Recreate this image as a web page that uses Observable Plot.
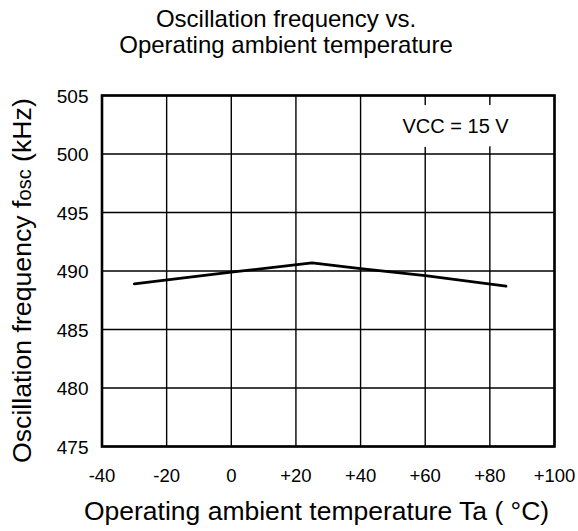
<!DOCTYPE html>
<html>
<head>
<meta charset="utf-8">
<script src="https://cdn.jsdelivr.net/npm/d3@7"></script>
<script src="https://cdn.jsdelivr.net/npm/@observablehq/plot@0.6"></script>
<style>
  html, body { margin: 0; padding: 0; background: white; }
  body { width: 578px; height: 531px; overflow: hidden; font-family: "Liberation Sans", Arial, sans-serif; }
  #title { height: 70px; box-sizing: border-box; padding-top: 6px; padding-right: 6px; text-align: center; font-size: 24px; line-height: 26px; color: black; }
  #chart svg { display: block; }
</style>
</head>
<body>
<div id="title">Oscillation frequency vs.<br>Operating ambient temperature</div>
<div id="chart"></div>
<script>
// Data
const temps = [-30, 0, 25, 40, 60, 85];
const freqs = [488.9, 489.9, 490.7, 490.2, 489.6, 488.7];

const xTicks = [-40, -20, 0, 20, 40, 60, 80, 100];
const xTickLabels = ["-40", "-20", "0", "+20", "+40", "+60", "+80", "+100"];
const yTicks = [475, 480, 485, 490, 495, 500, 505];
const yTickLabels = ["475", "480", "485", "490", "495", "500", "505"];

const xLabel = "Operating ambient temperature Ta ( °C)";
const yLabelParts = ["Oscillation frequency f", "osc", " (kHz)"];
const yLabel = yLabelParts.join("");

const annotation = [{t: 69.4, f: 502.3, text: "VCC = 15 V"}];

const series = temps.map((t, i) => ({t, f: freqs[i]}));
const xTickData = xTicks.map((v, i) => ({v, label: xTickLabels[i]}));
const yTickData = yTicks.map((v, i) => ({v, label: yTickLabels[i]}));

const font = "'Liberation Sans', Arial, sans-serif";

const chart = Plot.plot({
  width: 578,
  height: 461,
  marginTop: 25,
  marginBottom: 85,
  marginLeft: 101.5,
  marginRight: 24,
  style: {fontFamily: font, fontSize: "18px", background: "white", color: "black", overflow: "visible"},
  x: {domain: [-40, 100], axis: null},
  y: {domain: [475, 505], axis: null},
  marks: [
    Plot.gridX(xTicks, {stroke: "black", strokeOpacity: 1, strokeWidth: 1.4}),
    Plot.gridY(yTicks, {stroke: "black", strokeOpacity: 1, strokeWidth: 1.4}),
    Plot.text(annotation, {x: "t", y: "f", text: "text", fontSize: 20, fill: "black", stroke: "white", strokeWidth: 28, strokeLinejoin: "round", lineAnchor: "middle"}),
    Plot.line(series, {x: "t", y: "f", stroke: "black", strokeWidth: 2.7}),
    Plot.frame({stroke: "black", strokeWidth: 2.6}),
    // tick labels
    Plot.text(xTickData, {x: "v", text: "label", frameAnchor: "bottom", textAnchor: "middle", lineAnchor: "middle", dy: 29.5, fontSize: 18.5, fill: "black"}),
    Plot.text(yTickData, {y: "v", text: "label", frameAnchor: "left", textAnchor: "end", lineAnchor: "middle", dx: -13.5, dy: 1, fontSize: 19, fill: "black"}),
    // axis titles
    Plot.text([xLabel], {text: d => d, frameAnchor: "bottom", textAnchor: "middle", dx: -11.7, dy: 65.5, fontSize: 26.5, lineAnchor: "middle", fill: "black"}),
    Plot.text([yLabel], {text: d => d, frameAnchor: "left", textAnchor: "middle", rotate: -90, dx: -79.5, dy: 9.6, fontSize: 26.7, lineAnchor: "middle", fill: "black"})
  ]
});

document.getElementById("chart").appendChild(chart);

// Render "osc" as a smaller run inside the y-axis label
d3.select(chart).selectAll("text").each(function() {
  if (this.textContent === yLabel) {
    const t = d3.select(this);
    t.text(null);
    t.append("tspan").text(yLabelParts[0]);
    t.append("tspan").attr("font-size", 20).text(yLabelParts[1]);
    t.append("tspan").text(yLabelParts[2]);
  }
});
</script>
</body>
</html>
